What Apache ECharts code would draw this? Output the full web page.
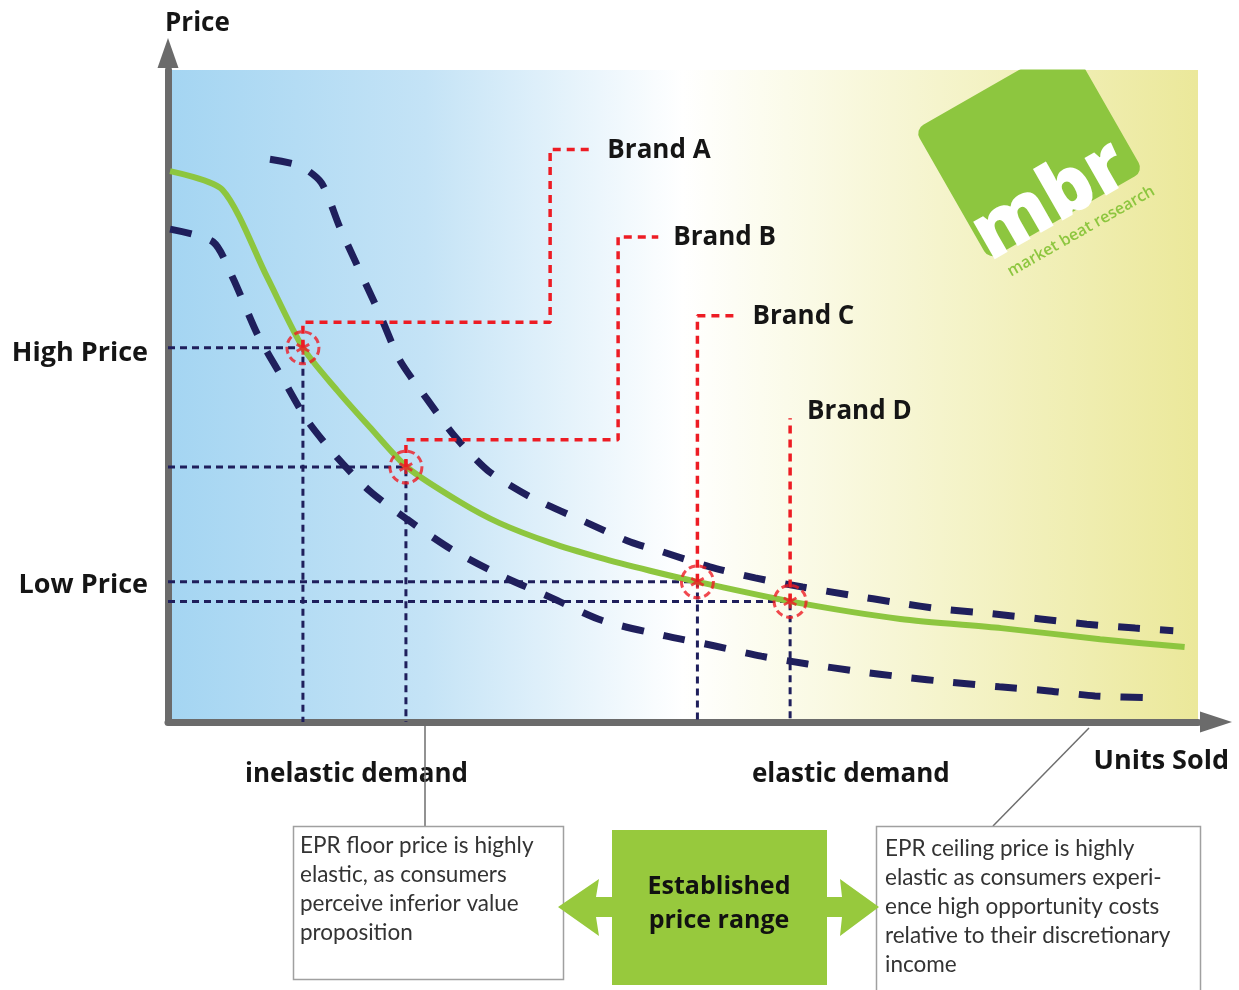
<!DOCTYPE html>
<html>
<head>
<meta charset="utf-8">
<script src="https://cdn.jsdelivr.net/npm/echarts@6/dist/echarts.min.js"></script>
<style>
  html, body { margin: 0; padding: 0; background: #fff; }
  #chart { width: 1239px; height: 990px; }
</style>
</head>
<body>
<div id="chart"></div>
<script>
// demand curve (green) - units sold vs price, 0..100 scale
const demandUnits = [0.2, 5.3, 9.6, 13.1, 16.4, 19.6, 23.2, 28.4, 32.2, 37.1, 41.9, 46.8, 51.4, 60.4, 71.1, 80.9, 90.5, 98.7];
const demandPrice = [84.5, 81.6, 68.3, 57.4, 50.9, 45.2, 39.1, 33.7, 30.5, 27.5, 25.2, 23.2, 21.5, 18.5, 15.8, 14.4, 12.7, 11.5];

// upper dashed curve
const upperUnits = [9.9, 12.8, 14.9, 16.7, 20.6, 22.5, 25.2, 27.9, 31.1, 35.2, 40.5, 44.9, 48.0, 52.6, 57.0, 61.6, 66.1, 70.8, 75.2, 80.0, 84.7, 89.2, 93.9, 97.6];
const upperPrice = [86.3, 85.3, 82.7, 75.8, 62.4, 55.5, 49.4, 43.7, 38.5, 34.5, 30.7, 27.6, 26.1, 23.8, 22.1, 20.7, 19.5, 18.3, 17.3, 16.6, 15.8, 15.0, 14.4, 14.0];

// lower dashed curve
const lowerUnits = [0.2, 4.4, 6.3, 8.7, 11.1, 13.5, 16.4, 19.6, 23.2, 27.6, 32.4, 37.3, 42.1, 48.3, 53.0, 57.6, 62.1, 66.8, 71.4, 76.0, 80.7, 85.3, 90.0, 95.8];
const lowerPrice = [75.6, 73.6, 68.1, 59.4, 52.8, 46.3, 40.6, 35.4, 31.1, 26.4, 22.4, 19.0, 15.6, 13.2, 11.7, 10.1, 8.9, 7.8, 6.9, 6.1, 5.4, 4.8, 4.0, 3.7];

// brands sitting on the demand curve
const brands = ['Brand A', 'Brand B', 'Brand C', 'Brand D'];
const brandUnits = [13.1, 23.1, 51.4, 60.4];
const brandPrices = [57.4, 39.1, 21.5, 18.5];

// axis labels
const priceLabels = ['High Price', 'Low Price'];
const priceLabelValues = [56.6, 21.0];
const zoneLabels = ['inelastic demand', 'elastic demand'];
const zoneLabelValues = [18.3, 66.3];

const boldFont = '"Open Sans", "DejaVu Sans", sans-serif';
const bodyFont = 'Lato, "Liberation Sans", sans-serif';
const navy = '#1f1f5c';
const red = '#ed1c24';
const green = '#8dc63f';

// leader routes for brand callouts: [rise to, turn x, top y, end x]
const leaderRoutes = [
  [61.3, 37.1, 87.8, 41.2],
  [43.3, 43.7, 74.4, 47.6],
  [62.3, null, null, 55.3],
  [46.6, null, null, null]
];

const starPath = 'path://M4,0 L6,0 L6,10 L4,10 Z M0.17,3.37 L1.17,1.63 L9.83,6.63 L8.83,8.37 Z M1.17,8.37 L0.17,6.63 L8.83,1.63 L9.83,3.37 Z';

function pairs(xs, ys) {
  return xs.map((x, i) => [x, ys[i]]);
}

let series = [];

// navy dotted guides from axes to each brand point
brands.forEach((b, i) => {
  series.push({
    type: 'line',
    data: [[0, brandPrices[i]], [brandUnits[i], brandPrices[i]], [brandUnits[i], 0]],
    symbol: 'none',
    silent: true,
    z: 2,
    lineStyle: { color: navy, width: 3, type: [7, 5] }
  });
});

series.push({
  type: 'line',
  name: 'upper',
  data: pairs(upperUnits, upperPrice),
  smooth: 0.25,
  symbol: 'none',
  silent: true,
  z: 3,
  lineStyle: { color: navy, width: 7, type: [22, 20] }
});
series.push({
  type: 'line',
  name: 'lower',
  data: pairs(lowerUnits, lowerPrice),
  smooth: 0.25,
  symbol: 'none',
  silent: true,
  z: 3,
  lineStyle: { color: navy, width: 7, type: [22, 20] }
});
series.push({
  type: 'line',
  name: 'demand',
  data: pairs(demandUnits, demandPrice),
  smooth: 0.25,
  symbol: 'none',
  silent: true,
  z: 4,
  lineStyle: { color: green, width: 6 }
});

// red leader lines with brand labels
brands.forEach((b, i) => {
  const r = leaderRoutes[i];
  let pts = [[brandUnits[i], brandPrices[i]], [brandUnits[i], r[0]]];
  if (r[1] != null) pts.push([r[1], r[0]], [r[1], r[2]], [r[3], r[2]]);
  else if (r[3] != null) pts.push([r[3], r[0]]);
  series.push({
    type: 'line',
    name: b,
    data: pts,
    symbol: 'none',
    silent: true,
    z: 5,
    lineStyle: { color: red, width: 3.5, type: [8, 6] },
    endLabel: {
      show: true,
      formatter: b,
      distance: 15,
      offset: r[3] == null ? [2, -7] : [0, 1],
      fontFamily: boldFont, fontWeight: 'bold', fontSize: 26, color: '#151515'
    }
  });
});

series.push({
  type: 'scatter',
  data: pairs(brandUnits, brandPrices),
  symbol: 'circle',
  symbolSize: 32,
  silent: true,
  z: 6,
  itemStyle: { color: 'rgba(0,0,0,0)', borderColor: red, borderWidth: 3, borderType: [7, 4] }
});
series.push({
  type: 'scatter',
  data: pairs(brandUnits, brandPrices),
  symbol: starPath,
  symbolSize: 14,
  silent: true,
  z: 7,
  itemStyle: { color: red }
});

const chart = echarts.init(document.getElementById('chart'));

const option = {
  animation: false,
  grid: {
    left: 168, top: 70, width: 1030, height: 652,
    show: true, borderWidth: 0,
    outerBoundsMode: 'none',
    backgroundColor: new echarts.graphic.LinearGradient(0, 0, 1, 0, [
      { offset: 0, color: '#a4d5f2' },
      { offset: 0.25, color: '#c4e3f6' },
      { offset: 0.5, color: '#ffffff' },
      { offset: 0.6, color: '#fbfbea' },
      { offset: 1, color: '#ebe89a' }
    ])
  },
  xAxis: {
    type: 'value', min: 0, max: 100,
    splitLine: { show: false },
    axisTick: { show: false },
    axisLine: {
      show: true, onZero: false,
      symbol: ['none', 'triangle'], symbolSize: [21, 32], symbolOffset: [0, 18],
      lineStyle: { color: '#6b6b6b', width: 7 }
    },
    axisLabel: {
      customValues: zoneLabelValues,
      formatter: v => zoneLabels[zoneLabelValues.indexOf(v)],
      margin: 40,
      fontFamily: boldFont, fontWeight: 'bold', fontSize: 26, color: '#151515'
    },
    name: 'Units Sold',
    nameLocation: 'end',
    nameGap: 31,
    nameTextStyle: {
      fontFamily: boldFont, fontWeight: 'bold', fontSize: 27, color: '#151515',
      align: 'right', verticalAlign: 'top', padding: [26, 0, 0, 0]
    }
  },
  yAxis: {
    type: 'value', min: 0, max: 100,
    splitLine: { show: false },
    axisTick: { show: false },
    axisLine: {
      show: true, onZero: false,
      symbol: ['none', 'triangle'], symbolSize: [21, 30], symbolOffset: [0, 17],
      lineStyle: { color: '#6b6b6b', width: 7 }
    },
    axisLabel: {
      customValues: priceLabelValues,
      formatter: v => priceLabels[priceLabelValues.indexOf(v)],
      margin: 20,
      fontFamily: boldFont, fontWeight: 'bold', fontSize: 27, color: '#151515'
    },
    name: 'Price',
    nameLocation: 'end',
    nameGap: 46,
    nameTextStyle: {
      fontFamily: boldFont, fontWeight: 'bold', fontSize: 26, color: '#151515',
      align: 'left', verticalAlign: 'middle', padding: [0, 0, 0, -3]
    }
  },
  series: series,
  graphic: [
    // logo
    {
      type: 'group', x: 1030, y: 150, rotation: 0.52, z: 1, silent: true,
      children: [
        { type: 'rect', shape: { x: -90, y: -75, width: 178, height: 150, r: 10 }, style: { fill: green } },
        { type: 'text', x: -90, y: 55, style: { text: 'mbr', fill: '#fff', font: '800 78px "Open Sans", sans-serif', textAlign: 'left', textVerticalAlign: 'middle' } },
        { type: 'text', x: 4, y: 96, style: { text: 'market beat research', fill: green, font: '600 16px "Open Sans", sans-serif', textAlign: 'center', textVerticalAlign: 'middle' } }
      ]
    },
    { type: 'rect', z: 2, silent: true, shape: { x: 860, y: 0, width: 379, height: 69.5 }, style: { fill: '#fff' } },
    // connectors
    { type: 'line', z: 1, silent: true, shape: { x1: 425, y1: 726, x2: 425, y2: 826 }, style: { stroke: '#6e6e6e', lineWidth: 1.5 } },
    { type: 'line', z: 1, silent: true, shape: { x1: 1089, y1: 728, x2: 993, y2: 826 }, style: { stroke: '#6e6e6e', lineWidth: 1.5 } },
    // left box
    { type: 'rect', z: 2, silent: true, shape: { x: 293.5, y: 826.5, width: 270, height: 153 }, style: { fill: '#fff', stroke: '#a0a0a0', lineWidth: 1.5 } },
    {
      type: 'text', z: 3, silent: true, x: 300, y: 831,
      style: { text: 'EPR floor price is highly\nelastic, as consumers\nperceive inferior value\nproposition', fill: '#333', font: '22.5px ' + bodyFont, lineHeight: 29 }
    },
    // right box
    { type: 'rect', z: 2, silent: true, shape: { x: 876.5, y: 826.5, width: 324, height: 175 }, style: { fill: '#fff', stroke: '#a0a0a0', lineWidth: 1.5 } },
    {
      type: 'text', z: 3, silent: true, x: 885, y: 834,
      style: { text: 'EPR ceiling price is highly\nelastic as consumers experi-\nence high opportunity costs\nrelative to their discretionary\nincome', fill: '#333', font: '22.5px ' + bodyFont, lineHeight: 29 }
    },
    // established price range
    { type: 'rect', z: 2, silent: true, shape: { x: 612, y: 830, width: 215, height: 155 }, style: { fill: '#97c93d' } },
    {
      type: 'polygon', z: 2, silent: true,
      shape: { points: [[558, 907], [599, 879], [596, 897], [613, 897], [613, 917], [596, 917], [599, 936]] },
      style: { fill: '#97c93d' }
    },
    {
      type: 'polygon', z: 2, silent: true,
      shape: { points: [[879, 907], [840, 879], [842, 897], [826, 897], [826, 917], [842, 917], [840, 936]] },
      style: { fill: '#97c93d' }
    },
    {
      type: 'text', z: 3, silent: true, x: 719, y: 904,
      style: { text: 'Established\nprice range', fill: '#111', font: 'bold 25px ' + boldFont, lineHeight: 34, textAlign: 'center', textVerticalAlign: 'middle' }
    }
  ]
};

option && chart.setOption(option);
</script>
</body>
</html>
